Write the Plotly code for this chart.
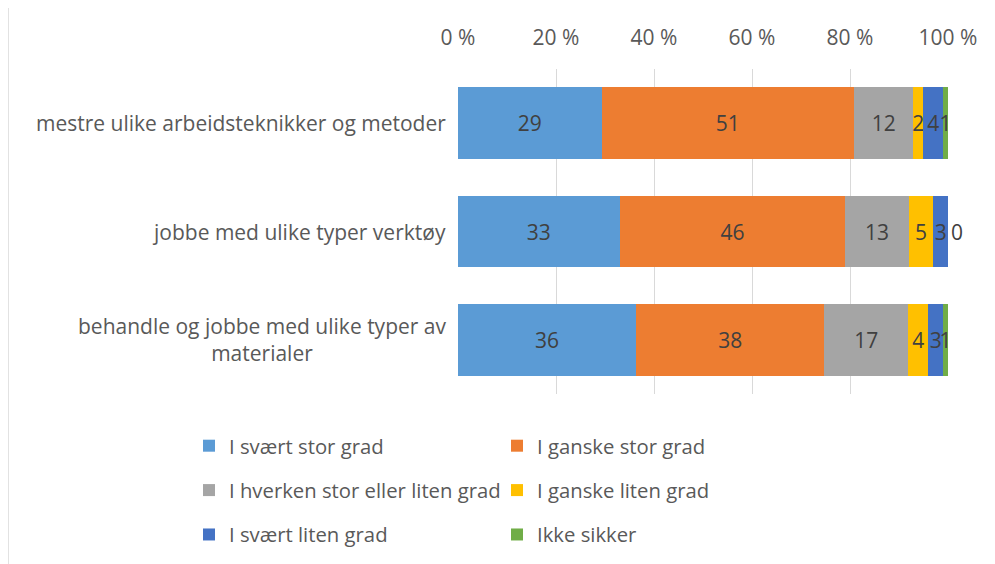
import plotly.graph_objects as go

categories = [
    "mestre ulike arbeidsteknikker og metoder",
    "jobbe med ulike typer verktøy",
    "behandle og jobbe med ulike typer av<br>materialer",
]
series_names = [
    "I svært stor grad",
    "I ganske stor grad",
    "I hverken stor eller liten grad",
    "I ganske liten grad",
    "I svært liten grad",
    "Ikke sikker",
]
values = {
    "I svært stor grad": [29, 33, 36],
    "I ganske stor grad": [51, 46, 38],
    "I hverken stor eller liten grad": [12, 13, 17],
    "I ganske liten grad": [2, 5, 4],
    "I svært liten grad": [4, 3, 3],
    "Ikke sikker": [1, 0, 1],
}
colors = ["#5B9BD5", "#ED7D31", "#A5A5A5", "#FFC000", "#4472C4", "#70AD47"]
tick_vals = [0, 20, 40, 60, 80, 100]
tick_text = ["0 %", "20 %", "40 %", "60 %", "80 %", "100 %"]

FONT = "Open Sans"
# The page body has an 8px margin, so figure coordinates = page coordinates - 8.
W, H = 987, 556
PL, PT, PR, PB = 450, 61, 940, 386  # plot area in figure px
PW, PH = PR - PL, PB - PT


def px_x(x):
    return (x - PL) / PW


def px_y(y):
    return (PB - y) / PH


fig = go.Figure()
for i, name in enumerate(series_names):
    vals = values[name]
    positions = ["inside" if v > 0 else "outside" for v in vals]
    fig.add_trace(go.Bar(
        name=name,
        y=categories,
        x=vals,
        orientation="h",
        marker=dict(color=colors[i], line=dict(width=0)),
        text=[str(v) for v in vals],
        texttemplate="%{text}",
        textposition=positions,
        insidetextanchor="middle",
        textangle=0,
        constraintext="none",
        cliponaxis=False,
        textfont=dict(family=FONT, size=21, color="#404040"),
        outsidetextfont=dict(family=FONT, size=21, color="#404040"),
        legend="legend" if i % 2 == 0 else "legend2",
        legendgroup=name,
        hoverinfo="skip",
    ))

annotations = []
for c in categories:
    annotations.append(dict(
        x=0, xref="paper", y=c, yref="y", text=c, showarrow=False,
        xanchor="right", yanchor="middle", align="center", xshift=-10,
        font=dict(family=FONT, size=21, color="#595959"),
    ))

fig.update_layout(
    width=W, height=H,
    margin=dict(l=PL, r=W - PR, t=PT, b=H - PB, autoexpand=False),
    barmode="stack", barnorm="percent", bargap=0.34,
    paper_bgcolor="white", plot_bgcolor="white",
    font=dict(family=FONT, size=20, color="#595959"),
    xaxis=dict(
        side="top", range=[0, 100], tickvals=tick_vals, ticktext=tick_text,
        showgrid=True, gridcolor="#D9D9D9", gridwidth=1, zeroline=False,
        showline=False, ticks="outside", ticklen=15, tickcolor="rgba(0,0,0,0)",
        tickfont=dict(family=FONT, size=21, color="#595959"),
    ),
    yaxis=dict(
        autorange="reversed", showticklabels=False, showgrid=False,
        zeroline=False, showline=False,
    ),
    annotations=annotations,
    legend=dict(
        x=px_x(181), xref="paper", xanchor="left",
        y=px_y(418), yanchor="top",
        orientation="v", tracegroupgap=15, bgcolor="rgba(0,0,0,0)",
        font=dict(family=FONT, size=20.3, color="#595959"),
    ),
    legend2=dict(
        x=px_x(489), xref="paper", xanchor="left",
        y=px_y(418), yanchor="top",
        orientation="v", tracegroupgap=15, bgcolor="rgba(0,0,0,0)",
        font=dict(family=FONT, size=20.3, color="#595959"),
    ),
    shapes=[dict(
        type="rect", xref="paper", yref="paper",
        x0=px_x(0), x1=px_x(1010),
        y0=px_y(600), y1=px_y(-2),
        line=dict(color="#D9D9D9", width=1.5), fillcolor="rgba(0,0,0,0)",
        layer="below",
    )],
    showlegend=True,
)
fig.write_html("out.html")
